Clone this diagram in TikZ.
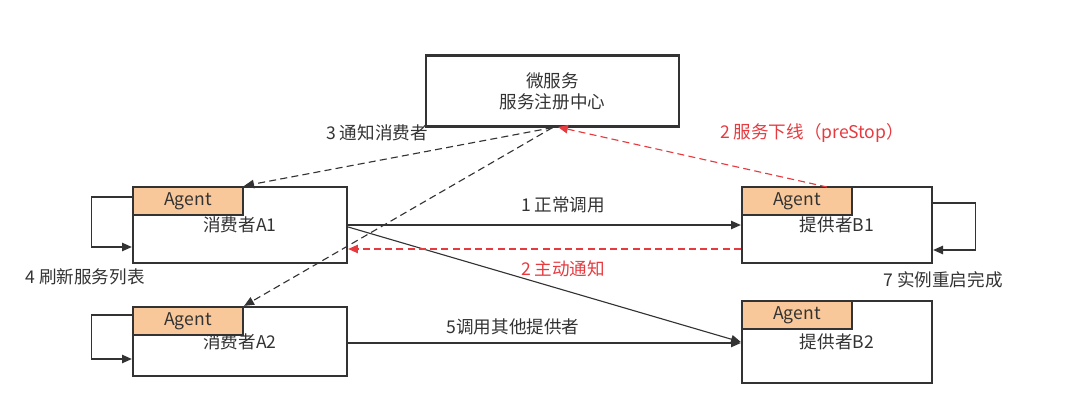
\documentclass[tikz,border=0pt]{standalone}
\usepackage{fontspec}
\setmainfont{Noto Sans CJK SC}
\usetikzlibrary{arrows.meta}
\definecolor{ink}{HTML}{333333}
\definecolor{agentfill}{HTML}{F9C89A}
\definecolor{alert}{HTML}{E63A3F}

\begin{document}
\begin{tikzpicture}[x=0.025cm,y=-0.025cm,
  every node/.style={font=\fontsize{12.5pt}{15pt}\selectfont},
  box/.style={draw=ink,line width=1.6pt,fill=white,text=ink,inner sep=0pt},
  agent/.style={box,fill=agentfill,minimum width=2.75cm,minimum height=0.7cm,anchor=north west},
  lbl/.style={text=ink,inner sep=1pt},
  flow/.style={draw=ink,line width=0.8pt,-{Triangle[length=7pt,width=6pt]}},
  note/.style={flow,dash pattern=on 5pt off 3pt},
  down/.style={draw=alert,line width=0.8pt,dash pattern=on 5pt off 3pt,-{Triangle[length=7pt,width=6pt]}}]
  \useasboundingbox (0,0) rectangle (1080,407);
  % registry
  \node[box,minimum width=6.325cm,minimum height=1.775cm,align=center] (reg) at (552.5,91)
    {微服务\\服务注册中心};
  \coordinate (regdn) at (558,127);
  % consumers
  \node[box,minimum width=5.35cm,minimum height=1.9cm] (ca1) at (240,225) {消费者A1};
  \node[agent] (ag1) at (ca1.north west) {Agent};
  \node[box,minimum width=5.35cm,minimum height=1.725cm] (ca2) at (240,341.5) {消费者A2};
  \node[agent] (ag2) at (ca2.north west) {Agent};
  % providers
  \node[box,minimum width=4.75cm,minimum height=1.9cm] (pb1) at (837,225) {提供者B1};
  \node[agent] (ag3) at (pb1.north west) {Agent};
  \node[box,minimum width=4.75cm,minimum height=2.05cm] (pb2) at (837,342) {提供者B2};
  \node[agent] (ag4) at (pb2.north west) {Agent};
  \coordinate (b1up) at (827,187);
  % calls
  \draw[flow] (ca1.east |- 0,225) -- (pb1.west |- 0,225);
  \draw[flow] (ca1.east |- 0,227) -- (pb2.west);
  \draw[flow] (ca2.east |- 0,343) -- (pb2.west |- 0,343);
  % notifications
  \draw[down] (pb1.west |- 0,249) -- (ca1.east |- 0,249);
  \draw[down] (b1up) -- (regdn);
  \draw[note] (reg.south) -- (ag1.north east);
  \draw[note] (reg.south) -- (ag2.north east);
  % self loops
  \draw[flow] (ca1.west |- 0,197) -- ++(-40,0) |- (ca1.west |- 0,247);
  \draw[flow] (ca2.west |- 0,315) -- ++(-40,0) |- (ca2.west |- 0,359);
  \draw[flow] (pb1.east |- 0,203) -- ++(42,0) |- (pb1.east |- 0,250);
  % labels
  \node[lbl] (t1) at (563,205) {1 正常调用};
  \node[lbl,text=alert] (t2) at (563,269) {2 主动通知};
  \node[lbl,text=alert] (t3) at (812,133) {2 服务下线（preStop）};
  \node[lbl] (t4) at (377,133) {3 通知消费者};
  \node[lbl] (t5) at (85,277) {4 刷新服务列表};
  \node[lbl] (t6) at (513,327) {5调用其他提供者};
  \node[lbl] (t7) at (943,280) {7 实例重启完成};
\end{tikzpicture}
\end{document}
